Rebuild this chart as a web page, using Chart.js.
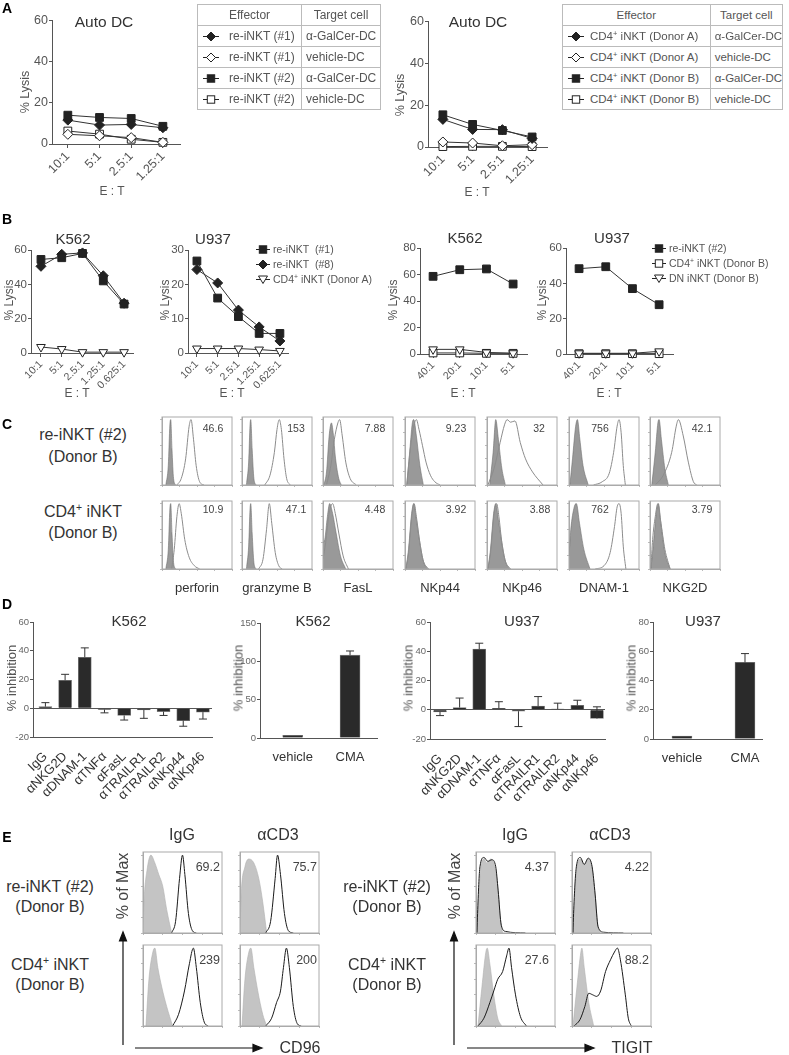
<!DOCTYPE html>
<html lang="en">
<head>
<meta charset="UTF-8">
<title>iNKT cytotoxicity</title>
<script src="https://cdn.jsdelivr.net/npm/chart.js"></script>
<style>
  body { margin: 0; width: 789px; height: 1055px; position: relative; overflow: hidden; background: #fff;
         font-family: 'Liberation Sans', Arial, Helvetica, sans-serif; color: #333; }
  canvas { position: absolute; }
  .t { position: absolute; white-space: nowrap; line-height: 1; }
  .tbl { position: absolute; border-collapse: collapse; font-size: 12px; color: #555; }
  .tbl td, .tbl th { border: 1px solid #bbb; height: 20px; padding: 0; font-weight: normal; white-space: nowrap; }
  .tbl th { text-align: center; }
  .tbl td.tc { padding-left: 4px; }
  .leg { position: absolute; font-size: 10.5px; color: #555; white-space: nowrap; line-height: 1; }
  .leg div { height: 15px; display: flex; align-items: center; }
  sup { font-size: 0.65em; vertical-align: 0.55em; line-height: 0; }
</style>
</head>
<body>
<script>
// ---- A: autologous DC lysis (% lysis per E:T) ----
const etA = ['10:1', '5:1', '2.5:1', '1.25:1'];
const aReiGal1 = [11.6, 9.2, 9.5, 7.9];
const aReiVeh1 = [4.7, 4.0, 3.1, 0.8];
const aReiGal2 = [14.0, 12.9, 12.4, 8.6];
const aReiVeh2 = [6.3, 4.8, 2.3, 0.8];
const aCd4GalA = [13.2, 8.4, 8.3, 4.1];
const aCd4VehA = [2.4, 1.9, 0.6, 1.1];
const aCd4GalB = [15.4, 10.8, 7.9, 4.8];
const aCd4VehB = [0.2, 0.3, 0.3, 0.2];

// ---- B: tumour lysis ----
const etB1 = ['10:1', '5:1', '2.5:1', '1.25:1', '0.625:1'];
const etB2 = ['40:1', '20:1', '10:1', '5:1'];
const bK562Rei1 = [54.5, 55.5, 58.0, 42.0, 28.5];
const bK562Rei8 = [50.5, 57.5, 58.3, 45.0, 29.0];
const bK562Cd4A = [3.5, 2.3, 0.5, 0.5, 0.5];
const bU937Rei1 = [26.8, 16.0, 10.6, 5.7, 5.7];
const bU937Rei8 = [24.3, 20.4, 12.5, 7.6, 3.5];
const bU937Cd4A = [1.3, 1.3, 1.3, 1.0, 0.6];
const bK562Rei2 = [58.6, 63.6, 64.2, 52.8];
const bK562Cd4B = [0.8, 0.8, 0.5, 0.5];
const bK562DnB = [3.5, 3.5, 1.2, 0.6];
const bU937Rei2 = [48.3, 49.4, 37.0, 27.9];
const bU937Cd4B = [0.2, 0.2, 0.2, 0.2];
const bU937DnB = [0.4, 0.4, 0.4, 1.5];

// ---- C: MFI histograms, points [log decade, % of max] ----
const cMarkers = ['perforin', 'granzyme B', 'FasL', 'NKp44', 'NKp46', 'DNAM-1', 'NKG2D'];
const cTopMfi = ['46.6', '153', '7.88', '9.23', '32', '756', '42.1'];
const cBotMfi = ['10.9', '47.1', '4.48', '3.92', '3.88', '762', '3.79'];
const cTopIso = [
  [[0.22, 0], [0.36, 30], [0.45, 92], [0.5, 100], [0.57, 55], [0.66, 10], [0.78, 0]],
  [[0.25, 0], [0.38, 35], [0.46, 92], [0.5, 100], [0.58, 55], [0.68, 10], [0.8, 0]],
  [[0.05, 0], [0.2, 20], [0.35, 75], [0.48, 95], [0.58, 80], [0.72, 40], [0.9, 10], [1.05, 0]],
  [[0.1, 0], [0.25, 45], [0.42, 95], [0.5, 100], [0.65, 75], [0.85, 30], [1.05, 0]],
  [[0.15, 0], [0.35, 50], [0.5, 100], [0.65, 70], [0.85, 25], [1.05, 0]],
  [[0.05, 0], [0.2, 40], [0.38, 90], [0.48, 100], [0.62, 70], [0.8, 30], [1.1, 0]],
  [[0.1, 0], [0.3, 50], [0.45, 95], [0.52, 100], [0.65, 70], [0.85, 25], [1.05, 0]]
];
const cTopStain = [
  [[0.85, 0], [1.1, 10], [1.35, 40], [1.55, 90], [1.66, 100], [1.8, 70], [1.95, 30], [2.15, 5], [2.4, 0]],
  [[1.3, 0], [1.6, 15], [1.85, 50], [2.0, 85], [2.13, 100], [2.25, 85], [2.4, 40], [2.55, 10], [2.75, 0]],
  [[0.2, 0], [0.45, 30], [0.65, 70], [0.85, 95], [0.95, 100], [1.1, 75], [1.3, 35], [1.55, 10], [1.9, 0]],
  [[0.1, 0], [0.3, 55], [0.5, 90], [0.65, 100], [0.8, 85], [1.0, 60], [1.2, 35], [1.45, 15], [1.7, 5], [2.0, 0]],
  [[0.05, 0], [0.4, 25], [0.75, 65], [1.0, 92], [1.15, 100], [1.35, 96], [1.6, 98], [1.9, 65], [2.2, 40], [2.6, 20], [3.2, 0]],
  [[1.4, 0], [1.9, 5], [2.3, 18], [2.55, 50], [2.75, 90], [2.86, 100], [2.98, 80], [3.1, 30], [3.22, 0]],
  [[0.3, 0], [0.76, 15], [1.24, 50], [1.5, 90], [1.62, 100], [1.9, 75], [2.19, 35], [2.48, 5], [2.67, 0]]
];
const cBotIso = [
  [[0.22, 0], [0.36, 30], [0.45, 92], [0.5, 100], [0.57, 55], [0.66, 10], [0.78, 0]],
  [[0.25, 0], [0.38, 35], [0.46, 92], [0.5, 100], [0.58, 55], [0.68, 10], [0.8, 0]],
  [[0, 40], [0.1, 45], [0.25, 80], [0.38, 100], [0.55, 85], [0.75, 55], [1.0, 20], [1.3, 0]],
  [[0.05, 0], [0.2, 30], [0.38, 85], [0.5, 100], [0.65, 75], [0.85, 40], [1.05, 12], [1.3, 0]],
  [[0.05, 0], [0.2, 30], [0.38, 85], [0.5, 100], [0.65, 75], [0.85, 40], [1.05, 12], [1.3, 0]],
  [[0, 20], [0.1, 60], [0.3, 95], [0.42, 100], [0.6, 70], [0.85, 30], [1.2, 0]],
  [[0.05, 0], [0.2, 40], [0.38, 90], [0.48, 100], [0.62, 70], [0.85, 25], [1.15, 0]]
];
const cBotStain = [
  [[0.55, 0], [0.7, 30], [0.85, 80], [0.98, 100], [1.1, 85], [1.3, 45], [1.55, 18], [1.85, 5], [2.15, 0]],
  [[0.95, 0], [1.2, 15], [1.4, 60], [1.56, 100], [1.7, 70], [1.9, 25], [2.1, 5], [2.3, 0]],
  [[0, 15], [0.15, 40], [0.35, 85], [0.55, 100], [0.7, 85], [0.9, 55], [1.15, 20], [1.45, 0]],
  [[0.05, 0], [0.2, 25], [0.4, 85], [0.52, 100], [0.65, 80], [0.85, 40], [1.05, 12], [1.35, 0]],
  [[0.05, 0], [0.2, 25], [0.4, 85], [0.55, 100], [0.68, 80], [0.85, 40], [1.05, 12], [1.35, 0]],
  [[1.5, 0], [2.0, 5], [2.35, 25], [2.6, 65], [2.75, 95], [2.86, 100], [2.98, 85], [3.1, 35], [3.25, 0]],
  [[0.05, 0], [0.15, 45], [0.3, 80], [0.45, 100], [0.6, 75], [0.85, 30], [1.15, 0]]
];

// ---- D: % inhibition (signed error: + up, - down) ----
const abLabels = ['IgG', 'αNKG2D', 'αDNAM-1', 'αTNFα', 'αFasL', 'αTRAILR1', 'αTRAILR2', 'αNKp44', 'αNKp46'];
const cmaLabels = ['vehicle', 'CMA'];
const dK562Ab = [1.1, 19.5, 35.5, -0.9, -5.0, -1.1, -2.3, -8.6, -2.7];
const dK562AbErr = [2.8, 4.1, 6.5, -2.3, -3.2, -5.9, -2.7, -3.9, -4.8];
const dK562Cma = [3.5, 108];
const dK562CmaErr = [0, 5.5];
const dU937Ab = [-1.5, 1.5, 41.5, 1.0, -1.0, 2.5, 0.5, 3.0, -6.0];
const dU937AbErr = [-2.5, 6.5, 4.0, 4.5, -10.5, 6.5, 4.0, 3.5, 8.0];
const dU937Cma = [2.0, 52.4];
const dU937CmaErr = [0, 6.0];

// ---- E: CD96 / TIGIT histograms (IgG, aCD3) x (re-iNKT, CD4 iNKT) ----
const eMfi = [['69.2', '75.7', '239', '200'], ['4.37', '4.22', '27.6', '88.2']];
const eCd96Iso = [
  [[0, 0], [0.05, 40], [0.2, 80], [0.4, 100], [0.6, 90], [0.8, 75], [1.0, 60], [1.2, 30], [1.45, 0]],
  [[0, 0], [0.05, 45], [0.25, 85], [0.45, 95], [0.7, 90], [0.95, 70], [1.15, 40], [1.35, 0]],
  [[0.15, 0], [0.3, 60], [0.5, 95], [0.6, 100], [0.75, 75], [0.95, 50], [1.2, 25], [1.5, 0]],
  [[0.1, 0], [0.25, 60], [0.45, 95], [0.55, 100], [0.7, 75], [0.9, 45], [1.15, 15], [1.35, 0]]
];
const eCd96Stain = [
  [[1.45, 0], [1.65, 15], [1.85, 70], [2.0, 100], [2.12, 75], [2.3, 25], [2.5, 3], [2.7, 0]],
  [[1.3, 0], [1.55, 15], [1.78, 70], [1.9, 100], [2.05, 75], [2.25, 25], [2.45, 3], [2.7, 0]],
  [[1.5, 0], [1.8, 15], [2.1, 45], [2.35, 80], [2.55, 100], [2.7, 75], [2.9, 30], [3.1, 5], [3.3, 0]],
  [[1.3, 0], [1.6, 10], [1.85, 30], [2.05, 45], [2.2, 75], [2.35, 100], [2.5, 75], [2.7, 25], [2.9, 3], [3.1, 0]]
];
const eTigitIso = [
  [[0.05, 0], [0.1, 30], [0.25, 85], [0.4, 95], [0.55, 90], [0.75, 95], [0.95, 85], [1.1, 60], [1.25, 15], [1.35, 0]],
  [[0.05, 0], [0.1, 30], [0.25, 85], [0.45, 95], [0.6, 88], [0.8, 95], [1.0, 85], [1.15, 55], [1.3, 12], [1.42, 0]],
  [[0.1, 0], [0.3, 50], [0.5, 95], [0.57, 100], [0.7, 80], [0.9, 40], [1.1, 10], [1.3, 0]],
  [[0.05, 0], [0.25, 50], [0.45, 95], [0.5, 100], [0.62, 75], [0.85, 30], [1.1, 0]]
];
const eTigitStain = [
  [[0.05, 0], [0.08, 25], [0.2, 85], [0.4, 97], [0.6, 92], [0.8, 94], [1.0, 85], [1.12, 55], [1.28, 10], [1.5, 2], [2.5, 0]],
  [[0.05, 0], [0.08, 25], [0.22, 85], [0.42, 97], [0.62, 88], [0.82, 96], [1.02, 85], [1.17, 50], [1.32, 8], [1.6, 1], [2.6, 0]],
  [[0.1, 0], [0.4, 10], [0.7, 30], [0.9, 45], [1.1, 60], [1.35, 70], [1.55, 90], [1.67, 100], [1.8, 75], [2.0, 40], [2.25, 12], [2.55, 0]],
  [[0.1, 0], [0.4, 8], [0.65, 25], [0.85, 42], [1.05, 40], [1.25, 38], [1.45, 45], [1.7, 70], [1.95, 85], [2.15, 95], [2.3, 100], [2.45, 85], [2.7, 40], [2.85, 10], [3.0, 0]]
];

// ---------------------------------------------------------------
Chart.defaults.font.family = "'Liberation Sans', Arial, Helvetica, sans-serif";
Chart.defaults.color = '#555';
const AX = '#555';

Chart.register({
  id: 'errbars',
  afterDatasetsDraw(chart, args, opts) {
    if (!opts.err) return;
    const ctx = chart.ctx, ys = chart.scales.y, ds = chart.data.datasets[0].data;
    ctx.save();
    ctx.strokeStyle = '#333';
    ctx.lineWidth = 1;
    chart.getDatasetMeta(0).data.forEach((bar, i) => {
      const e = opts.err[i];
      if (!e) return;
      const y0 = ys.getPixelForValue(ds[i].y), y1 = ys.getPixelForValue(ds[i].y + e);
      ctx.beginPath();
      ctx.moveTo(bar.x, y0); ctx.lineTo(bar.x, y1);
      ctx.moveTo(bar.x - 4, y1); ctx.lineTo(bar.x + 4, y1);
      ctx.stroke();
    });
    ctx.restore();
  }
});

Chart.register({
  id: 'frame',
  afterDatasetsDraw(chart, args, opts) {
    if (!opts.on) return;
    const { left, top, width, height } = chart.chartArea, ctx = chart.ctx;
    ctx.save();
    ctx.strokeStyle = '#aaa';
    ctx.lineWidth = 1;
    ctx.strokeRect(left, top, width, height);
    ctx.restore();
  }
});

// L,T,W,H = plot area in page pixels
function mk(L, T, W, H, cfg, o) {
  const yW = o.yW, xH = o.xH, pt = o.pt ?? 8, pr = o.pr ?? 8;
  const c = document.createElement('canvas');
  c.width = W + yW + pr;
  c.height = H + pt + xH;
  c.style.left = (L - yW) + 'px';
  c.style.top = (T - pt) + 'px';
  c.style.width = c.width + 'px';
  c.style.height = c.height + 'px';
  document.body.appendChild(c);
  Object.assign(cfg.options, { responsive: false, animation: false, devicePixelRatio: 1, events: [],
    layout: { padding: { top: pt, right: pr, left: 0, bottom: 0 } } });
  cfg.options.plugins = Object.assign({ legend: { display: false }, tooltip: { enabled: false } }, cfg.options.plugins);
  return new Chart(c, cfg);
}

const MK = { dF: ['rectRot', true], dO: ['rectRot', false], sF: ['rect', true], sO: ['rect', false], tO: ['triangle', false] };
function ser(vals, key) {
  const [style, filled] = MK[key];
  return {
    data: vals.map((y, x) => ({ x, y })),
    pointStyle: style, pointRotation: style === 'triangle' ? 180 : 0,
    pointRadius: style === 'rect' ? 5.5 : 5,
    pointBackgroundColor: filled ? '#222' : '#fff', pointBorderColor: '#222', pointBorderWidth: 1,
    borderColor: '#333', borderWidth: 1, tension: 0, clip: false
  };
}

function lineChart(L, T, W, H, labels, xmin, xmax, ymax, ystep, series, fx, fy) {
  const yW = 30, xH = 50;
  mk(L, T, W, H, {
    type: 'line',
    data: { datasets: series },
    options: {
      scales: {
        x: {
          type: 'linear', min: xmin, max: xmax, offset: false,
          afterBuildTicks: s => { s.ticks = labels.map((_, i) => ({ value: i })); },
          afterFit: s => { s.height = xH; },
          ticks: { autoSkip: false, minRotation: 45, maxRotation: 45, padding: 1, font: { size: fx }, callback: v => labels[v] },
          grid: { drawOnChartArea: false, color: AX, tickLength: 4 },
          border: { color: AX }
        },
        y: {
          min: 0, max: ymax,
          afterFit: s => { s.width = yW; },
          ticks: { stepSize: ystep, padding: 1, font: { size: fy } },
          grid: { drawOnChartArea: false, color: AX, tickLength: 3 },
          border: { color: AX }
        }
      }
    }
  }, { yW, xH });
}

function barChart(L, T, W, H, labels, vals, errs, xmin, xmax, ymin, ymax, ystep, rotate, thick) {
  const yW = 30, xH = rotate ? 66 : 26;
  mk(L, T, W, H, {
    type: 'bar',
    data: { datasets: [{ data: vals.map((y, x) => ({ x, y })), backgroundColor: '#2a2a2a', borderColor: '#777',
      borderWidth: 0.8, barThickness: thick }] },
    options: {
      scales: {
        x: {
          type: 'linear', min: xmin, max: xmax, offset: false,
          afterBuildTicks: s => { s.ticks = labels.map((_, i) => ({ value: i })); },
          afterFit: s => { s.height = xH; },
          ticks: { autoSkip: false, minRotation: rotate ? 45 : 0, maxRotation: rotate ? 45 : 0, padding: 4,
            font: { size: 13 }, color: '#333', callback: v => labels[v] },
          grid: { display: false, offset: false },
          border: { color: AX }
        },
        y: {
          min: ymin, max: ymax,
          afterFit: s => { s.width = yW; },
          ticks: { stepSize: ystep, padding: 1, font: { size: 9.5 }, color: '#666' },
          grid: { color: c => (ymin < 0 && c.tick && c.tick.value === 0) ? AX : 'rgba(0,0,0,0)', tickColor: AX, tickLength: 3 },
          border: { color: AX }
        }
      },
      plugins: { errbars: { err: errs } }
    }
  }, { yW, xH });
}

const pts = a => a.map(([x, y]) => ({ x, y }));
function histo(L, T, W, H, iso, stain, dark) {
  mk(L, T, W, H, {
    type: 'line',
    data: { datasets: [
      { data: pts(stain), borderColor: dark ? '#1a1a1a' : '#8c8c8c', borderWidth: 1, pointRadius: 0,
        cubicInterpolationMode: 'monotone', fill: false },
      { data: pts(iso), borderColor: dark ? '#b0b0b0' : '#6e6e6e', backgroundColor: dark ? '#c4c4c4' : '#999',
        borderWidth: 0.6, pointRadius: 0, cubicInterpolationMode: 'monotone', fill: 'origin' }
    ] },
    options: {
      scales: {
        x: { type: 'linear', min: 0, max: 4,
          afterBuildTicks: s => { s.ticks = [0, 1, 2, 3, 4].map(value => ({ value })); },
          afterFit: s => { s.height = 5; },
          ticks: { display: false }, grid: { drawOnChartArea: false, color: '#bbb', tickLength: 2 }, border: { color: '#aaa' } },
        y: { min: 0, max: 104,
          afterBuildTicks: s => { s.ticks = [0, 20, 40, 60, 80, 100].map(value => ({ value })); },
          afterFit: s => { s.width = 5; },
          ticks: { display: false }, grid: { drawOnChartArea: false, color: '#bbb', tickLength: 2 }, border: { color: '#aaa' } }
      },
      plugins: { frame: { on: true } }
    }
  }, { yW: 5, xH: 5, pt: 2, pr: 2 });
}

function txt(s, x, y, size, o = {}) {
  const d = document.createElement('div');
  d.className = 't';
  d.innerHTML = s;
  d.style.left = x + 'px';
  d.style.top = y + 'px';
  d.style.fontSize = size + 'px';
  const base = o.right ? 'translate(-100%,-50%)' : 'translate(-50%,-50%)';
  d.style.transform = base + (o.rot ? ' rotate(-90deg)' : '');
  if (o.bold) { d.style.fontWeight = 'bold'; d.style.color = '#000'; }
  if (o.color) d.style.color = o.color;
  document.body.appendChild(d);
}

function mark(shape, filled, w) {
  const c = w / 2, f = filled ? '#222' : '#fff';
  let s = '';
  if (shape === 'd') s = `<polygon points="${c},1 ${c + 4.5},5.5 ${c},10 ${c - 4.5},5.5" fill="${f}" stroke="#222"/>`;
  if (shape === 's') s = `<rect x="${c - 3.7}" y="1.8" width="7.4" height="7.4" fill="${f}" stroke="#222"/>`;
  if (shape === 't') s = `<polygon points="${c - 4.5},2 ${c + 4.5},2 ${c},9.5" fill="${f}" stroke="#222"/>`;
  return `<svg width="${w}" height="11" style="vertical-align:middle;flex:none"><line x1="0" y1="5.5" x2="${w}" y2="5.5" stroke="#222"/>${s}</svg>`;
}

// ---------------- panel A ----------------
lineChart(52, 20, 128, 124, etA, -0.5, 3.54, 60, 20, [
  ser(aReiGal2, 'sF'), ser(aReiGal1, 'dF'), ser(aReiVeh1, 'dO'), ser(aReiVeh2, 'sO')], 12.5, 12.5);
lineChart(428, 21, 119, 126, etA, -0.5, 3.5, 60, 20, [
  ser(aCd4GalB, 'sF'), ser(aCd4GalA, 'dF'), ser(aCd4VehA, 'dO'), ser(aCd4VehB, 'sO')], 12.5, 12.5);
txt('Auto DC', 104, 22, 15.5);
txt('Auto DC', 478, 22, 15.5);
txt('% Lysis', 25, 92, 12.5, { rot: true, color: '#555' });
txt('% Lysis', 400, 95, 12.5, { rot: true, color: '#555' });
txt('E : T', 112, 191, 12, { color: '#555' });
txt('E : T', 477, 192, 12, { color: '#555' });

function table(left, width, col1, rows, mw, gap) {
  const t = document.createElement('table');
  t.className = 'tbl';
  t.style.left = left + 'px';
  t.style.top = '4px';
  t.style.width = width + 'px';
  let h = `<tr><th style="width:${col1}px">Effector</th><th>Target cell</th></tr>`;
  rows.forEach(r => {
    h += `<tr><td style="padding-left:5px">${mark(r[0], r[1], mw)}<span style="margin-left:${gap}px">${r[2]}</span></td><td class="tc">${r[3]}</td></tr>`;
  });
  t.innerHTML = h;
  document.body.appendChild(t);
  return t;
}
table(197, 184, 103, [
  ['d', true, 're-iNKT (#1)', 'α-GalCer-DC'], ['d', false, 're-iNKT (#1)', 'vehicle-DC'],
  ['s', true, 're-iNKT (#2)', 'α-GalCer-DC'], ['s', false, 're-iNKT (#2)', 'vehicle-DC']], 16, 10);
table(562, 221, 147, [
  ['d', true, 'CD4<sup>+</sup> iNKT (Donor A)', 'α-GalCer-DC'], ['d', false, 'CD4<sup>+</sup> iNKT (Donor A)', 'vehicle-DC'],
  ['s', true, 'CD4<sup>+</sup> iNKT (Donor B)', 'α-GalCer-DC'], ['s', false, 'CD4<sup>+</sup> iNKT (Donor B)', 'vehicle-DC']], 16, 6)
  .style.fontSize = '11.5px';

// ---------------- panel B ----------------
lineChart(31, 250, 102, 103, etB1, -0.48, 4.43, 60, 20, [
  ser(bK562Rei1, 'sF'), ser(bK562Rei8, 'dF'), ser(bK562Cd4A, 'tO')], 10.5, 11.5);
lineChart(188, 250, 100, 103, etB1, -0.43, 4.39, 30, 10, [
  ser(bU937Rei1, 'sF'), ser(bU937Rei8, 'dF'), ser(bU937Cd4A, 'tO')], 10.5, 11.5);
lineChart(420, 248, 107, 106, etB2, -0.49, 3.52, 80, 20, [
  ser(bK562Rei2, 'sF'), ser(bK562DnB, 'tO'), ser(bK562Cd4B, 'sO')], 10.5, 11.5);
lineChart(566, 248, 107, 106, etB2, -0.49, 3.52, 60, 20, [
  ser(bU937Rei2, 'sF'), ser(bU937DnB, 'tO'), ser(bU937Cd4B, 'sO')], 10.5, 11.5);
txt('K562', 73, 238, 15);
txt('U937', 213, 238, 15);
txt('K562', 465, 237, 15);
txt('U937', 612, 237, 15);
[[9, 300], [165, 300], [393, 300], [542, 300]].forEach(p => txt('% Lysis', p[0], p[1], 12, { rot: true, color: '#555' }));
[[77, 393], [232, 393], [463, 393], [609, 393]].forEach(p => txt('E : T', p[0], p[1], 12, { color: '#555' }));

function legend(x, y, rows) {
  const d = document.createElement('div');
  d.className = 'leg';
  d.style.left = x + 'px';
  d.style.top = y + 'px';
  d.innerHTML = rows.map(r => `<div>${mark(r[0], r[1], 14)}<span style="margin-left:3px">${r[2]}</span></div>`).join('');
  document.body.appendChild(d);
}
legend(256, 242, [['s', true, 're-iNKT&nbsp;&nbsp;(#1)'], ['d', true, 're-iNKT&nbsp;&nbsp;(#8)'], ['t', false, 'CD4<sup>+</sup> iNKT (Donor A)']]);
legend(652, 241, [['s', true, 're-iNKT (#2)'], ['s', false, 'CD4<sup>+</sup> iNKT (Donor B)'], ['t', false, 'DN iNKT (Donor B)']]);

// ---------------- panel C ----------------
const cLeft = [162, 242, 323, 405, 487, 569, 650];
const cTopX = [213, 296, 375, 456, 539, 600, 702];
const cBotX = [213, 296, 375, 456, 540, 600, 702];
cLeft.forEach((L, i) => {
  histo(L, 417, 70, 68, cTopIso[i], cTopStain[i], false);
  histo(L, 501, 70, 68, cBotIso[i], cBotStain[i], false);
  txt(cTopMfi[i], cTopX[i], 428, 10.5, { color: '#444' });
  txt(cBotMfi[i], cBotX[i], 509, 10.5, { color: '#444' });
  txt(cMarkers[i], L + 35, 587, 13);
});
txt('re-iNKT (#2)', 83, 435, 16);
txt('(Donor B)', 83, 457, 16);
txt('CD4<sup>+</sup> iNKT', 83, 512, 16);
txt('(Donor B)', 83, 533, 16);

// ---------------- panel D ----------------
barChart(33, 622, 179, 115, abLabels, dK562Ab, dK562AbErr, -0.63, 8.46, -20, 60, 20, true, 13);
barChart(260, 623, 117, 115, cmaLabels, dK562Cma, dK562CmaErr, -0.57, 1.47, 0, 150, 50, false, 20);
barChart(430, 622, 175, 117, abLabels, dU937Ab, dU937AbErr, -0.51, 8.41, -20, 60, 20, true, 13);
barChart(653, 622, 109, 117, cmaLabels, dU937Cma, dU937CmaErr, -0.46, 1.27, 0, 80, 20, false, 20);
txt('K562', 129, 620, 15);
txt('K562', 313, 620, 15);
txt('U937', 522, 620, 15);
txt('U937', 703, 620, 15);
[[11, 678], [238, 678], [408, 678], [631, 678]].forEach(p => txt('% inhibition', p[0], p[1], 13, { rot: true, color: '#555' }));

// ---------------- panel E ----------------
const eCols = [[143, 240], [476, 572]];
const eIso = [eCd96Iso, eTigitIso], eStain = [eCd96Stain, eTigitStain];
const eValX = [[220, 317, 220, 317], [549, 649, 549, 649]];
eCols.forEach((cols, p) => {
  [852, 945].forEach((T, r) => {
    cols.forEach((L, c) => {
      const k = r * 2 + c;
      histo(L, T, 79, 81, eIso[p][k], eStain[p][k], true);
      txt(eMfi[p][k], eValX[p][k], T + 15, 12.5, { right: true, color: '#444' });
    });
  });
  txt('IgG', cols[0] + 39, 835, 16);
  txt('αCD3', cols[1] + 38, 835, 16);
});
[50, 387].forEach(x => {
  txt('re-iNKT (#2)', x, 887, 16);
  txt('(Donor B)', x, 907, 16);
  txt('CD4<sup>+</sup> iNKT', x, 965, 16);
  txt('(Donor B)', x, 985, 16);
});
txt('% of Max', 123, 886, 16, { rot: true, color: '#444' });
txt('% of Max', 455, 886, 16, { rot: true, color: '#444' });
txt('CD96', 300, 1048, 16);
txt('TIGIT', 632, 1048, 16);

// panel letters
[['A', 7, 8], ['B', 7, 219], ['C', 7, 424], ['D', 7, 604], ['E', 7, 837]].forEach(l => txt(l[0], l[1], l[2], 14, { bold: true }));
</script>
<svg width="789" height="1055" style="position:absolute;left:0;top:0;pointer-events:none">
  <g stroke="#111" stroke-width="1.2" fill="#111">
    <line x1="123" y1="1045" x2="123" y2="940"/><polygon points="123,932 119.5,941 126.5,941"/>
    <line x1="135" y1="1048" x2="254" y2="1048"/><polygon points="262,1048 253,1044.5 253,1051.5"/>
    <line x1="454" y1="1045" x2="454" y2="940"/><polygon points="454,932 450.5,941 457.5,941"/>
    <line x1="467" y1="1048" x2="586" y2="1048"/><polygon points="594,1048 585,1044.5 585,1051.5"/>
  </g>
</svg>
</body>
</html>
